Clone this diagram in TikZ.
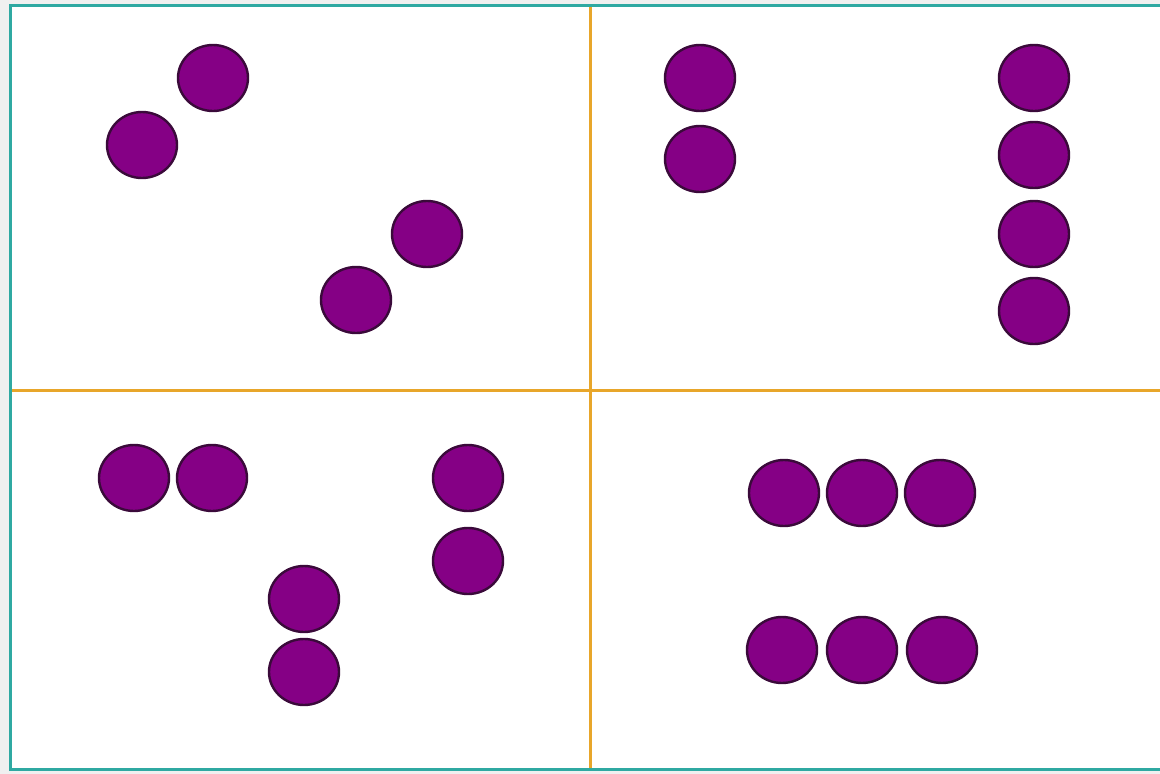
\documentclass[tikz,border=0pt]{standalone}
\usetikzlibrary{shapes.geometric}
\begin{document}
\begin{tikzpicture}[x=1pt,y=-1pt,
  dot/.style={ellipse,draw=dotline,fill=dotfill,line width=2.4pt,minimum width=70pt,minimum height=66pt,inner sep=0pt},
  divider/.style={draw=divcol,line width=3pt}]
\definecolor{dotfill}{HTML}{850085}
\definecolor{dotline}{HTML}{3A0A3A}
\definecolor{divcol}{HTML}{E8A62A}
\definecolor{framecol}{HTML}{2FA9A2}
\useasboundingbox (0,0) rectangle (1160,774);
\fill[gray!12] (0,0) rectangle (1160,774);
\fill[white] (10.5,5.5) rectangle (1160,769.5);
\draw[divider] (590,7) -- (590,768);
\draw[divider] (12,390) -- (1160,390);
\draw[draw=framecol,line width=3.5pt] (1162,5.5) -- (10.5,5.5) -- (10.5,769.5) -- (1162,769.5);
\begin{scope}
\path[every node/.style=dot]
  (213,78) node (a1) {} (142,145) node (a2) {} (427,234) node (a3) {} (356,300) node (a4) {}
  (700,78) node (b1) {} (700,159) node (b2) {}
  (1034,78) node (b3) {} (1034,155) node (b4) {} (1034,234) node (b5) {} (1034,311) node (b6) {}
  (134,478) node (c1) {} (212,478) node (c2) {} (468,478) node (c3) {} (468,561) node (c4) {}
  (304,599) node (c5) {} (304,672) node (c6) {}
  (784,493) node (d1) {} (862,493) node (d2) {} (940,493) node (d3) {}
  (782,650) node (d4) {} (862,650) node (d5) {} (942,650) node (d6) {};
\end{scope}
\end{tikzpicture}
\end{document}
